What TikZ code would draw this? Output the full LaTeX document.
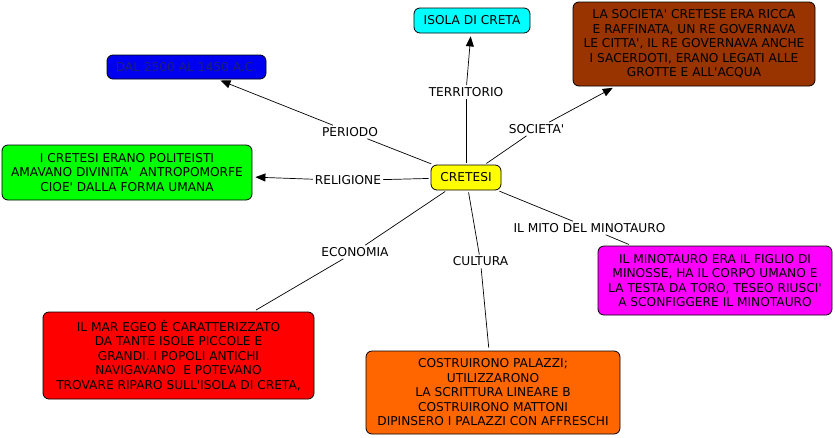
\documentclass[tikz,border=0pt]{standalone}
\usepackage{fontspec}
\setmainfont{DejaVu Sans}[Ligatures=TeXOff]
\usetikzlibrary{arrows.meta}
\definecolor{cyanbox}{RGB}{0,255,255}
\definecolor{brownbox}{RGB}{153,51,0}
\definecolor{bluebox}{RGB}{0,0,240}
\definecolor{bluetext}{RGB}{30,30,120}
\definecolor{greenbox}{RGB}{0,255,0}
\definecolor{yellowbox}{RGB}{255,255,0}
\definecolor{magentabox}{RGB}{255,0,255}
\definecolor{redbox}{RGB}{255,0,0}
\definecolor{orangebox}{RGB}{255,102,0}
\tikzset{
  concept/.style={draw=black, line width=0.8pt, rounded corners=6pt, align=center,
    inner sep=0pt, font=\fontsize{12.2}{14.5}\selectfont},
  lbl/.style={fill=white, inner sep=2pt, font=\fontsize{12.2}{14.5}\selectfont},
  link/.style={draw=black, line width=0.7pt},
  arr/.style={link, -{Triangle[length=10pt,width=8pt]}, shorten >=3pt},
}
\begin{document}
\begin{tikzpicture}[x=1pt,y=-1pt]
\useasboundingbox[fill=white] (0,0) rectangle (835,437);

\node[concept, fill=cyanbox, minimum width=116pt, minimum height=25pt] (isola) at (472,20.5) {ISOLA DI CRETA};
\node[concept, fill=brownbox, minimum width=242pt, minimum height=84pt] (soc) at (694,44)
  {LA SOCIETA' CRETESE ERA RICCA\\E RAFFINATA, UN RE GOVERNAVA\\LE CITTA', IL RE GOVERNAVA ANCHE\\I SACERDOTI, ERANO LEGATI ALLE\\GROTTE E ALL'ACQUA};
\node[concept, fill=bluebox, text=bluetext, minimum width=159pt, minimum height=24pt] (dal) at (186.5,67) {DAL 2500 AL 1450 A.C.};
\node[concept, fill=greenbox, minimum width=250pt, minimum height=55pt] (rel) at (127,172.5)
  {I CRETESI ERANO POLITEISTI\\AMAVANO DIVINITA'\ \ ANTROPOMORFE\\CIOE' DALLA FORMA UMANA};
\node[concept, fill=yellowbox, minimum width=70pt, minimum height=25pt] (cretesi) at (466,177.5) {CRETESI};
\node[concept, fill=magentabox, minimum width=234pt, minimum height=69pt] (mito) at (715,280.5)
  {IL MINOTAURO ERA IL FIGLIO DI\\MINOSSE, HA IL CORPO UMANO E\\LA TESTA DA TORO, TESEO RIUSCI'\\A SCONFIGGERE IL MINOTAURO};
\node[concept, fill=redbox, minimum width=271pt, minimum height=87pt] (eco) at (178.5,355.5)
  {IL MAR EGEO È CARATTERIZZATO\\DA TANTE ISOLE PICCOLE E\\GRANDI. I POPOLI ANTICHI\\NAVIGAVANO\ \ E POTEVANO\\TROVARE RIPARO SULL'ISOLA DI CRETA,};
\node[concept, fill=orangebox, minimum width=254pt, minimum height=83pt] (cul) at (493,392.5)
  {COSTRUIRONO PALAZZI;\\UTILIZZARONO\\LA SCRITTURA LINEARE B\\COSTRUIRONO MATTONI\\DIPINSERO I PALAZZI CON AFFRESCHI};

\node[lbl] (lper) at (350,132) {PERIODO};
\node[lbl] (lter) at (466,92) {TERRITORIO};
\node[lbl] (lsoc) at (536.5,129) {SOCIETA'};
\node[lbl] (lrel) at (348,180.5) {RELIGIONE};
\node[lbl] (lmit) at (589.5,228) {IL MITO DEL MINOTAURO};
\node[lbl] (leco) at (355,252) {ECONOMIA};
\node[lbl] (lcul) at (480.5,261.5) {CULTURA};

\draw[link, shorten <=2pt] (cretesi) -- (lper);
\draw[arr] (lper) -- (dal);
\draw[link, shorten <=2pt] (cretesi) -- (lter);
\draw[arr] (lter) -- (isola);
\draw[link, shorten <=2pt] (cretesi) -- (lsoc);
\draw[arr] (lsoc) -- (soc);
\draw[link, shorten <=2pt] (cretesi) -- (lrel);
\draw[arr] (lrel) -- (rel);
\draw[link, shorten <=2pt] (cretesi) -- (lmit);
\draw[link, shorten >=3pt] (lmit) -- (mito);
\draw[link, shorten <=2pt] (cretesi) -- (leco);
\draw[link, shorten >=3pt] (leco) -- (eco);
\draw[link, shorten <=2pt] (cretesi) -- (lcul);
\draw[link, shorten >=3pt] (lcul) -- (cul);
\end{tikzpicture}
\end{document}
